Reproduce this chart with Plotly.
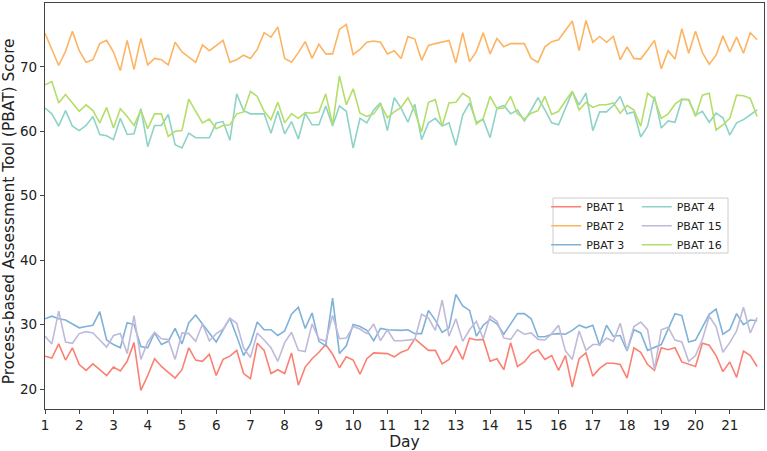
import numpy as np
import plotly.graph_objects as go

days = [round(1 + 0.2 * i, 1) for i in range(105)]

pbat1 = [25.1, 24.8, 27.0, 24.5, 26.4, 23.8, 22.9, 23.9, 23.0, 22.1,
         23.4, 22.8, 24.3, 27.2, 19.8, 22.1, 24.7, 23.5, 22.6, 21.7,
         23.0, 26.4, 24.5, 24.3, 25.4, 22.1, 24.6, 25.1, 26.0, 22.4,
         21.6, 27.1, 26.0, 22.4, 23.0, 22.4, 25.6, 20.6, 23.4, 24.7,
         25.7, 26.9, 25.4, 23.3, 25.0, 24.5, 22.3, 24.7, 25.6, 25.6,
         25.5, 25.0, 25.7, 26.1, 27.8, 26.9, 26.0, 26.0, 23.9, 24.6,
         26.7, 24.6, 27.9, 27.6, 27.7, 24.3, 24.7, 23.0, 27.2, 23.5,
         24.2, 25.5, 26.1, 24.6, 25.2, 22.9, 25.2, 20.3, 24.7, 25.6,
         22.0, 23.2, 24.0, 24.0, 23.8, 21.7, 26.4, 25.7, 23.8, 22.9,
         26.4, 26.1, 26.4, 24.2, 23.8, 23.5, 27.1, 26.8, 25.2, 22.7,
         24.2, 21.8, 25.9, 25.2, 23.5]

pbat2 = [75.2, 72.6, 70.2, 72.4, 75.5, 72.5, 70.7, 71.1, 73.6, 74.1,
         72.3, 69.4, 74.1, 69.6, 74.4, 70.3, 71.3, 71.1, 70.3, 73.8,
         72.3, 71.5, 70.7, 73.4, 72.5, 73.3, 74.1, 70.7, 71.1, 71.8,
         71.3, 72.7, 75.3, 74.6, 76.2, 71.3, 70.7, 72.2, 73.9, 71.3,
         73.5, 72.0, 72.0, 75.8, 76.6, 71.9, 72.7, 73.8, 74.0, 73.8,
         72.0, 72.5, 71.3, 74.7, 74.3, 71.0, 73.3, 73.6, 73.8, 74.1,
         70.6, 75.3, 70.8, 72.4, 75.3, 72.0, 74.4, 73.1, 73.6, 73.6,
         73.6, 71.3, 70.7, 73.1, 73.9, 74.2, 75.6, 77.1, 72.5, 77.2,
         73.8, 74.7, 73.8, 74.7, 71.1, 73.1, 71.3, 71.2, 72.6, 74.1,
         69.7, 72.5, 71.2, 75.9, 72.1, 75.5, 72.2, 70.4, 71.8, 74.8,
         72.3, 74.6, 72.1, 75.3, 74.2]

pbat3 = [30.9, 31.3, 30.9, 30.7, 30.1, 29.5, 29.7, 29.9, 32.0, 27.6,
         26.9, 26.4, 30.3, 30.0, 26.6, 26.4, 28.7, 26.9, 27.4, 29.4,
         27.0, 30.3, 31.5, 30.0, 28.7, 27.3, 29.2, 31.0, 28.2, 25.2,
         27.0, 30.4, 29.2, 29.2, 28.3, 29.0, 31.6, 32.7, 29.4, 31.8,
         27.4, 26.7, 34.1, 25.5, 26.7, 30.0, 29.7, 29.1, 27.5, 29.4,
         29.2, 29.1, 29.1, 29.2, 28.6, 28.6, 32.2, 30.7, 28.8, 29.5,
         34.7, 32.9, 32.2, 28.2, 29.9, 30.8, 30.1, 28.5, 30.1, 31.7,
         31.7, 30.9, 28.1, 28.1, 28.5, 28.6, 28.5, 29.1, 29.9, 29.5,
         29.9, 26.7, 29.9, 28.2, 28.3, 25.9, 29.2, 28.7, 26.0, 26.4,
         26.9, 29.3, 31.7, 31.4, 27.3, 27.6, 29.7, 31.6, 32.4, 28.5,
         29.2, 31.7, 30.0, 30.7, 30.6]

pbat4 = [63.6, 62.7, 60.8, 63.2, 60.8, 60.1, 60.9, 62.3, 59.5, 59.3,
         58.7, 62.0, 59.5, 59.6, 63.5, 57.6, 60.9, 60.9, 62.6, 57.9,
         57.4, 59.7, 59.0, 59.0, 59.0, 61.3, 61.5, 58.6, 65.8, 63.2,
         62.7, 62.7, 62.7, 59.7, 63.1, 59.6, 61.5, 58.8, 62.8, 61.0,
         61.0, 63.9, 60.8, 63.9, 63.1, 57.4, 62.0, 61.3, 63.3, 64.4,
         60.1, 65.2, 63.6, 61.4, 64.2, 58.7, 61.3, 62.0, 60.8, 61.3,
         57.8, 62.5, 64.4, 61.4, 61.8, 59.0, 63.6, 64.0, 62.7, 63.3,
         61.6, 63.3, 65.2, 63.3, 61.3, 61.0, 63.6, 66.1, 64.1, 65.9,
         60.1, 63.0, 63.0, 64.0, 65.4, 62.7, 63.0, 59.1, 60.8, 65.4,
         60.5, 61.6, 61.4, 64.9, 64.9, 62.5, 63.1, 61.4, 62.8, 62.1,
         59.4, 61.3, 61.8, 62.5, 63.3]

pbat15 = [28.2, 27.0, 32.1, 27.3, 27.1, 28.6, 28.9, 28.7, 27.6, 26.5,
          28.3, 28.6, 25.5, 31.4, 24.6, 27.3, 28.8, 27.8, 27.7, 24.6,
          28.7, 28.6, 27.4, 30.1, 27.5, 28.6, 29.3, 31.0, 30.2, 26.4,
          24.9, 28.7, 27.6, 26.4, 24.3, 27.2, 28.8, 26.0, 25.8, 30.1,
          27.8, 27.4, 31.4, 27.8, 27.9, 29.7, 29.3, 28.6, 30.1, 27.5,
          29.2, 27.5, 27.5, 27.6, 27.7, 31.6, 31.0, 29.1, 33.8, 28.2,
          30.9, 27.4, 29.2, 30.5, 27.8, 31.3, 30.5, 27.9, 27.7, 29.2,
          28.5, 28.7, 27.7, 27.6, 28.6, 29.9, 25.9, 24.6, 29.0, 26.0,
          26.9, 26.9, 27.9, 27.4, 30.2, 26.0, 29.7, 30.4, 29.2, 23.0,
          29.2, 29.6, 27.6, 27.3, 24.3, 25.2, 27.7, 31.3, 29.7, 25.7,
          27.2, 29.0, 32.7, 28.7, 31.1]

pbat16 = [67.2, 67.7, 64.4, 65.7, 64.4, 63.1, 64.1, 63.2, 61.3, 63.7,
          60.5, 63.5, 62.3, 60.9, 63.3, 60.4, 62.7, 62.7, 59.2, 60.0,
          60.1, 65.0, 63.1, 61.3, 61.9, 60.4, 60.9, 61.0, 62.7, 63.0,
          66.2, 65.4, 63.1, 61.8, 64.5, 61.3, 62.7, 62.0, 62.9, 62.8,
          63.0, 65.8, 61.0, 68.6, 64.1, 66.6, 62.8, 62.3, 62.7, 64.2,
          62.1, 63.0, 63.7, 65.2, 63.1, 59.9, 64.5, 64.9, 60.8, 64.4,
          64.5, 65.9, 65.2, 61.1, 62.0, 65.4, 63.5, 63.6, 65.4, 62.7,
          61.9, 62.8, 63.2, 65.4, 62.6, 63.1, 64.7, 66.2, 63.3, 64.5,
          63.7, 64.1, 64.1, 64.4, 62.8, 64.0, 63.3, 60.8, 65.9, 65.0,
          62.0, 62.7, 64.2, 65.0, 64.9, 62.3, 65.6, 65.9, 60.2, 61.0,
          62.0, 65.6, 65.5, 65.1, 62.3]

series_names = ["PBAT 1", "PBAT 2", "PBAT 3", "PBAT 4", "PBAT 15", "PBAT 16"]
series_values = [pbat1, pbat2, pbat3, pbat4, pbat15, pbat16]
colors = ["#fb8072", "#fdb462", "#7fb1d9", "#8dd3c7", "#bebada", "#b3de69"]
legend_ids = ["legend", "legend", "legend", "legend2", "legend2", "legend2"]

x_ticks = list(range(1, 22))
y_ticks = [20, 30, 40, 50, 60, 70]

FONT = "DejaVu Sans"

fig = go.Figure()
for name, vals, col, lg in zip(series_names, series_values, colors, legend_ids):
    fig.add_trace(go.Scatter(x=days, y=vals, mode="lines", name=name,
                             line=dict(color=col, width=1.6), legend=lg))

legend_common = dict(bgcolor="rgba(0,0,0,0)", borderwidth=0,
                     font=dict(family=FONT, size=11, color="#222"),
                     orientation="v", tracegroupgap=0,
                     xanchor="left", yanchor="top", itemwidth=30)

fig.update_layout(
    width=767, height=451,
    margin=dict(l=45, r=3, t=3, b=42),
    paper_bgcolor="white", plot_bgcolor="white",
    font=dict(family=FONT, size=14, color="#222"),
    showlegend=True,
    legend=dict(x=0.697, y=0.534, **legend_common),
    legend2=dict(x=0.823, y=0.534, **legend_common),
    xaxis=dict(range=[1, 22], tickvals=x_ticks, ticktext=[str(t) for t in x_ticks],
               showgrid=False, zeroline=False, showline=True, mirror=True,
               linecolor="#444", linewidth=1.2, ticks="outside", ticklen=4,
               tickcolor="#444", tickfont=dict(size=13.5, family=FONT),
               title=dict(text="Day", font=dict(size=15.5, family=FONT), standoff=4),
               automargin=False),
    yaxis=dict(range=[16.9, 79.9], tickvals=y_ticks, ticktext=[str(t) for t in y_ticks],
               showgrid=False, zeroline=False, showline=True, mirror=True,
               linecolor="#444", linewidth=1.2, ticks="outside", ticklen=4,
               tickcolor="#444", tickfont=dict(size=13.5, family=FONT),
               automargin=False),
    annotations=[dict(text="Process-based Assessment Tool (PBAT) Score",
                      xref="paper", yref="paper", x=(9 - 45) / 719, y=0.487,
                      xanchor="center", yanchor="middle", textangle=-90,
                      showarrow=False, font=dict(size=15.4, family=FONT, color="#222"))],
    shapes=[dict(type="rect", xref="paper", yref="paper",
                 x0=(553 - 45) / 719, x1=(728 - 45) / 719,
                 y0=(409 - 253) / 406, y1=(409 - 198) / 406,
                 line=dict(color="#cccccc", width=1), fillcolor="rgba(255,255,255,0.8)",
                 layer="above")],
)

fig.write_html("out.html", config={"displayModeBar": False},
               post_script="document.body.style.margin='0';document.body.style.padding='0';")
